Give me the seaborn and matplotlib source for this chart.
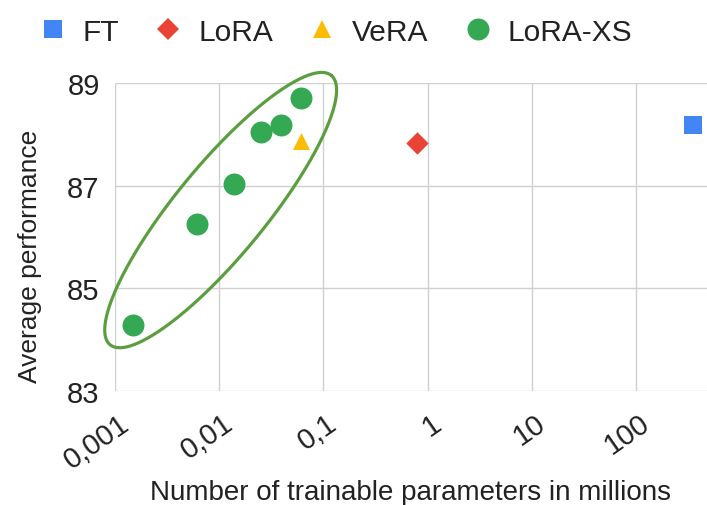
import matplotlib
matplotlib.use("Agg")
import matplotlib.pyplot as plt
import seaborn as sns
import numpy as np
import pandas as pd
from matplotlib.lines import Line2D
from matplotlib.ticker import NullLocator
from matplotlib import transforms

# ---- data ----
methods = ["FT", "LoRA", "VeRA", "LoRA-XS"]
ft_params = [355]
ft_perf = [88.18]
lora_params = [0.8]
lora_perf = [87.84]
vera_params = [0.061]
vera_perf = [87.87]
xs_params = [0.0015, 0.0061, 0.014, 0.025, 0.039, 0.061]
xs_perf = [84.28, 86.26, 87.04, 88.05, 88.18, 88.71]
x_ticks = [0.001, 0.01, 0.1, 1, 10, 100]
x_tick_labels = ["0,001", "0,01", "0,1", "1", "10", "100"]
y_ticks = [83, 85, 87, 89]

colors = {"FT": "#4285F4", "LoRA": "#EA4335", "VeRA": "#FBBC04", "LoRA-XS": "#34A853"}
markers = {"FT": "s", "LoRA": "D", "VeRA": "^", "LoRA-XS": "o"}
sizes = {"FT": 165, "LoRA": 130, "VeRA": 150, "LoRA-XS": 250}

df = pd.concat([
    pd.DataFrame({"method": "FT", "params": ft_params, "perf": ft_perf}),
    pd.DataFrame({"method": "LoRA", "params": lora_params, "perf": lora_perf}),
    pd.DataFrame({"method": "VeRA", "params": vera_params, "perf": vera_perf}),
    pd.DataFrame({"method": "LoRA-XS", "params": xs_params, "perf": xs_perf}),
], ignore_index=True)

sns.set_theme(style="white")
plt.rcParams["font.family"] = ["Liberation Sans", "DejaVu Sans"]
txt = "#222222"

fig = plt.figure(figsize=(7.07, 5.06), dpi=100)
ax = fig.add_axes([115 / 707, 1 - 392 / 506, 592 / 707, 308 / 506])

for i, m in enumerate(methods):
    sub = df[df["method"] == m]
    sns.scatterplot(data=sub, x="params", y="perf", marker=markers[m], s=sizes[m],
                    color=colors[m], linewidth=0, ax=ax, legend=False, zorder=3 + i)

ax.set_xscale("log")
ax.set_xlim(0.001, 482)
ax.set_ylim(83, 89)
ax.set_xticks(x_ticks)
ax.set_xticklabels(x_tick_labels)
ax.xaxis.set_minor_locator(NullLocator())
ax.set_yticks(y_ticks)
ax.grid(True, color="#d0d0d0", lw=1)
ax.set_axisbelow(True)
for sp in ax.spines.values():
    sp.set_visible(False)
ax.tick_params(length=0, labelcolor=txt)
ax.tick_params(axis="y", pad=11, labelsize=21)
ax.tick_params(axis="x", pad=21, labelsize=21)
offset = transforms.ScaledTranslation(11 / 100, 0, fig.dpi_scale_trans)
for lab in ax.get_xticklabels():
    lab.set_rotation(35)
    lab.set_ha("right")
    lab.set_va("center")
    lab.set_rotation_mode("anchor")
    lab.set_transform(lab.get_transform() + offset)

ax.set_xlabel("Number of trainable parameters in millions", fontsize=20, color=txt)
ax.set_ylabel("Average performance", fontsize=19, color=txt)
ax.xaxis.set_label_coords(0.5, -0.286)
ax.yaxis.set_label_coords(-0.123, 0.44)

# ---- ellipse around LoRA-XS points (computed in pixel space) ----
p0 = ax.transData.transform((xs_params[0], xs_perf[0]))
p1 = ax.transData.transform((xs_params[-1], xs_perf[-1]))
c = (p0 + p1) / 2 + np.array([3.5, 1.5])
d = p1 - p0
L = np.hypot(*d)
ang = np.arctan2(d[1], d[0]) - np.deg2rad(3)
u = np.array([np.cos(ang), np.sin(ang)])
n = np.array([-u[1], u[0]])
a = L / 2 + 33
b = 45
t = np.linspace(0, 2 * np.pi, 300)
pts = c[None, :] + np.outer(a * np.cos(t), u) + np.outer(b * np.sin(t), n)
dpts = ax.transData.inverted().transform(pts)
ax.plot(dpts[:, 0], dpts[:, 1], color="#5B9E3F", lw=2.3, clip_on=False, zorder=10)

# ---- legend ----
handles = [Line2D([0], [0], marker=markers[m], color="none", markerfacecolor=colors[m],
                  markeredgewidth=0, markersize=np.sqrt(sizes[m]) * 1.0) for m in methods]
fig.legend(handles, methods, loc="center", bbox_to_anchor=(0.474, 0.935), ncol=4,
           frameon=False, fontsize=21.5, handletextpad=0.5, columnspacing=1.15,
           handlelength=1.0, labelcolor=txt)

fig.savefig("out.png", dpi=100)
